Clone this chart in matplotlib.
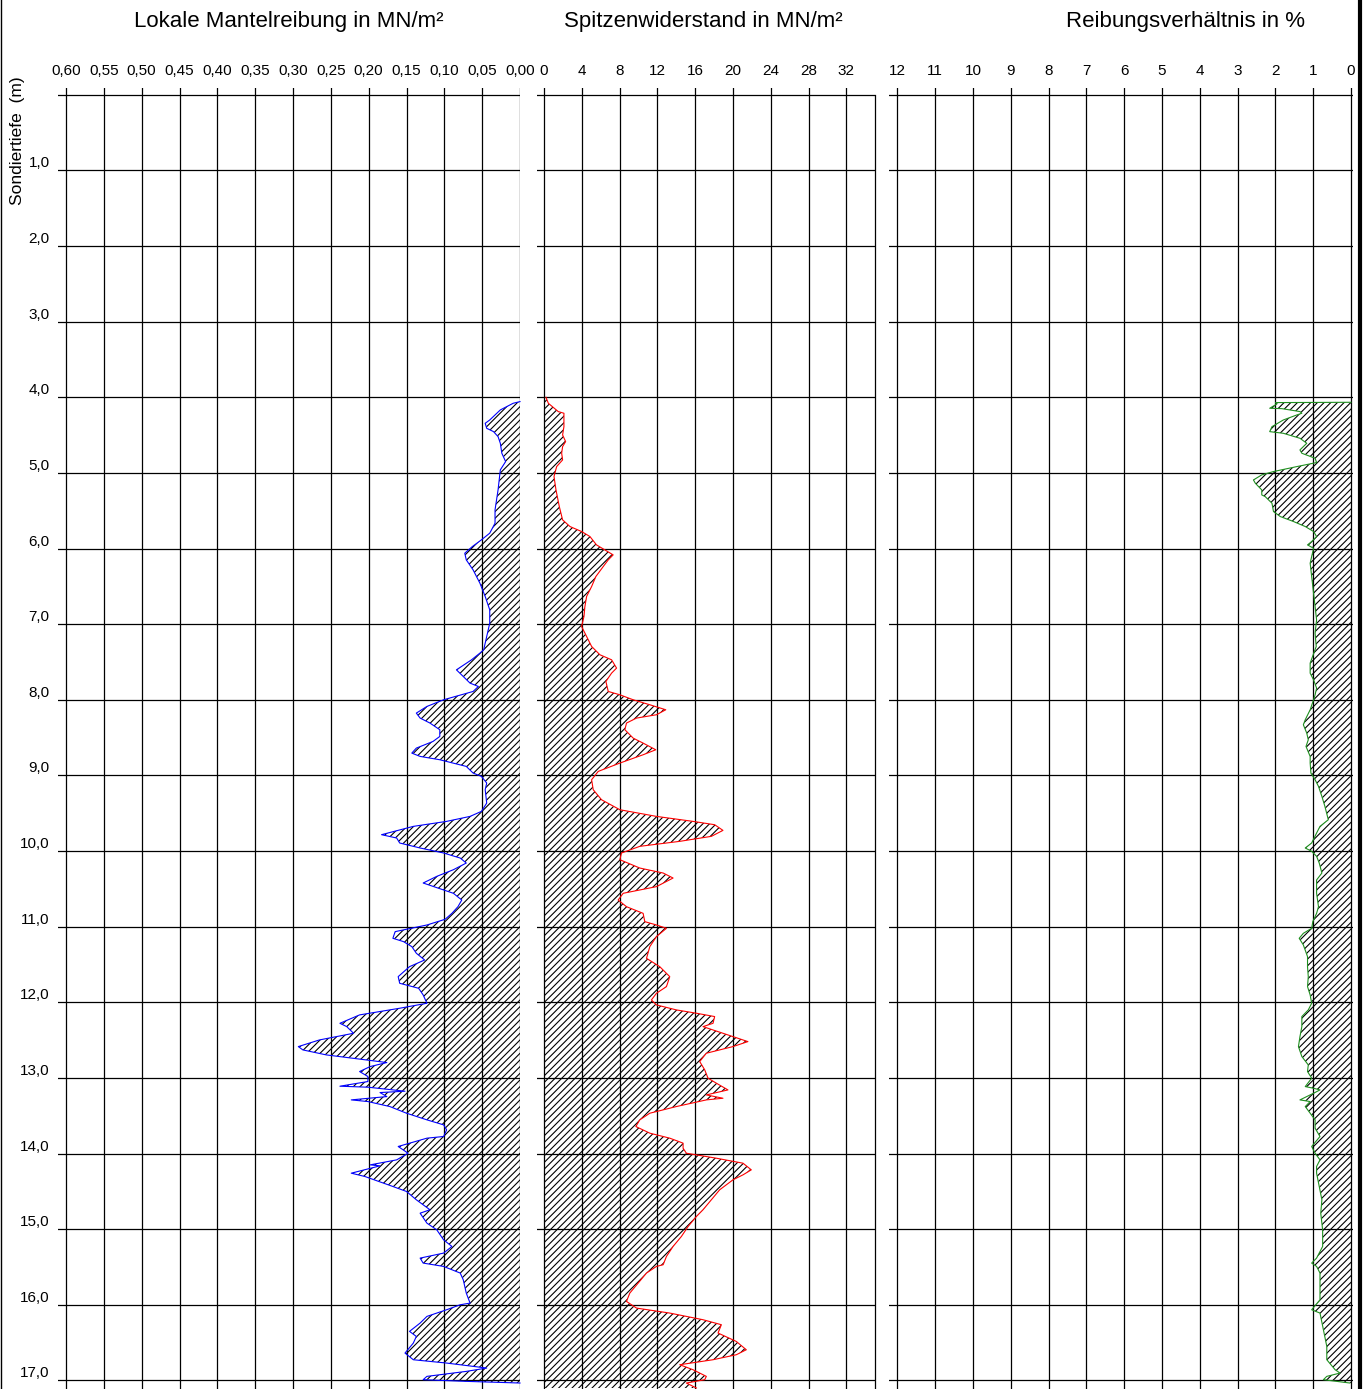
import matplotlib
matplotlib.use("Agg")
import matplotlib.pyplot as plt
from matplotlib.lines import Line2D
import numpy as np

plt.rcParams["font.family"] = ["Liberation Sans", "DejaVu Sans"]
plt.rcParams["hatch.linewidth"] = 0.8
plt.rcParams["hatch.color"] = "black"

W, H = 1368, 1389

# Lokale Mantelreibung (MN/m²) over depth (m)
fs_depth = [
    4.057, 4.079, 4.167, 4.300, 4.344, 4.410, 4.454, 4.520, 4.608, 4.740, 4.850, 4.960,
    5.225, 5.489, 5.665, 5.797, 5.885, 5.974, 6.062, 6.150, 6.282, 6.458, 6.634, 6.811,
    6.987, 7.163, 7.339, 7.383, 7.471, 7.604, 7.692, 7.780, 7.824, 7.890, 8.000, 8.088,
    8.176, 8.242, 8.308, 8.396, 8.485, 8.551, 8.639, 8.705, 8.749, 8.793, 8.881, 8.969,
    9.013, 9.101, 9.189, 9.366, 9.476, 9.542, 9.608, 9.674, 9.784, 9.828, 9.894, 9.960,
    10.026, 10.093, 10.159, 10.247, 10.335, 10.423, 10.515, 10.559, 10.648, 10.736,
    10.824, 10.903, 10.978, 11.066, 11.154, 11.198, 11.264, 11.352, 11.441, 11.529,
    11.661, 11.749, 11.815, 11.903, 12.013, 12.079, 12.167, 12.278, 12.322, 12.410,
    12.498, 12.586, 12.630, 12.696, 12.762, 12.797, 12.850, 12.916, 12.982, 13.048,
    13.110, 13.123, 13.176, 13.194, 13.247, 13.291, 13.313, 13.379, 13.467, 13.555,
    13.621, 13.687, 13.775, 13.797, 13.907, 13.996, 14.084, 14.150, 14.163, 14.260,
    14.304, 14.436, 14.502, 14.612, 14.744, 14.789, 14.921, 15.009, 15.141, 15.229,
    15.317, 15.383, 15.449, 15.493, 15.581, 15.670, 15.846, 15.978, 16.000, 16.066,
    16.154, 16.242, 16.352, 16.419, 16.507, 16.639, 16.727, 16.771, 16.837, 16.881,
    16.947, 16.991, 17.013, 17.035,
]
fs_value = [
    0.000, 0.009, 0.026, 0.040, 0.046, 0.044, 0.035, 0.029, 0.026, 0.024, 0.019, 0.026,
    0.029, 0.033, 0.033, 0.040, 0.051, 0.063, 0.073, 0.071, 0.062, 0.053, 0.046, 0.040,
    0.040, 0.044, 0.048, 0.053, 0.064, 0.084, 0.075, 0.066, 0.055, 0.062, 0.101, 0.123,
    0.137, 0.132, 0.119, 0.106, 0.106, 0.115, 0.137, 0.143, 0.132, 0.106, 0.071, 0.062,
    0.051, 0.044, 0.046, 0.044, 0.051, 0.066, 0.097, 0.141, 0.183, 0.163, 0.159, 0.132,
    0.101, 0.079, 0.071, 0.088, 0.110, 0.128, 0.101, 0.088, 0.077, 0.082,
    0.090, 0.099, 0.123, 0.165, 0.168, 0.154, 0.143, 0.137, 0.126, 0.146,
    0.161, 0.159, 0.134, 0.128, 0.123, 0.159, 0.212, 0.238, 0.229, 0.220,
    0.265, 0.293, 0.287, 0.256, 0.203, 0.176, 0.198, 0.212, 0.201, 0.201,
    0.238, 0.201, 0.152, 0.185, 0.176, 0.223, 0.201, 0.172, 0.150, 0.123,
    0.101, 0.097, 0.101, 0.123, 0.161, 0.148, 0.163, 0.198, 0.185, 0.223,
    0.205, 0.168, 0.150, 0.137, 0.119, 0.132, 0.123, 0.110, 0.101, 0.090,
    0.101, 0.132, 0.128, 0.101, 0.079, 0.075, 0.071, 0.066, 0.079, 0.097,
    0.123, 0.132, 0.146, 0.137, 0.141, 0.152, 0.141, 0.097, 0.044, 0.071,
    0.123, 0.128, 0.071, 0.000,
]

# Spitzenwiderstand (MN/m²) over depth (m)
qc_depth = [
    4.000, 4.079, 4.189, 4.211, 4.388, 4.498, 4.586, 4.652, 4.740, 4.828, 4.916, 5.048,
    5.225, 5.445, 5.621, 5.709, 5.775, 5.841, 5.952, 6.018, 6.084, 6.150, 6.238, 6.370,
    6.502, 6.634, 6.767, 6.899, 7.031, 7.163, 7.295, 7.405, 7.471, 7.581, 7.648, 7.758,
    7.890, 7.934, 8.000, 8.066, 8.132, 8.198, 8.242, 8.308, 8.396, 8.507, 8.573, 8.661,
    8.727, 8.837, 8.947, 9.057, 9.189, 9.322, 9.454, 9.542, 9.608, 9.652, 9.727, 9.806,
    9.872, 9.938, 10.026, 10.115, 10.225, 10.291, 10.357, 10.471, 10.559, 10.648,
    10.736, 10.824, 10.934, 10.978, 11.022, 11.132, 11.264, 11.419, 11.529, 11.661,
    11.793, 11.881, 11.969, 12.035, 12.101, 12.145, 12.189, 12.278, 12.322, 12.410,
    12.520, 12.586, 12.674, 12.784, 12.894, 13.004, 13.070, 13.159, 13.225, 13.269,
    13.291, 13.379, 13.467, 13.555, 13.643, 13.731, 13.797, 13.863, 13.930, 13.996,
    14.062, 14.128, 14.216, 14.282, 14.348, 14.480, 14.612, 14.744, 14.833, 14.965,
    15.097, 15.229, 15.361, 15.471, 15.493, 15.581, 15.714, 15.846, 15.956, 16.044,
    16.110, 16.198, 16.264, 16.374, 16.485, 16.595, 16.661, 16.727, 16.793, 16.859,
    16.947, 16.991, 17.035, 17.101,
]
qc_value = [
    0.21, 0.46, 1.51, 2.11, 2.11, 1.97, 2.29, 1.97, 1.87, 1.97, 1.34, 1.06,
    1.27, 1.62, 1.97, 2.75, 3.98, 4.86, 5.56, 6.44, 7.32, 6.80, 6.27, 5.49,
    5.04, 4.51, 4.33, 4.23, 3.98, 4.51, 5.04, 5.92, 7.15, 7.68, 7.15, 6.55,
    6.80, 8.03, 9.44, 11.20, 12.89, 11.90, 9.79, 8.73, 8.56, 9.44, 10.49, 11.83,
    10.49, 8.03, 5.74, 5.04, 5.21, 6.09, 8.03, 11.90, 15.77, 18.06, 18.94, 17.71,
    14.37, 10.14, 8.20, 8.03, 10.14, 12.61, 13.66, 11.90, 8.38, 7.85,
    8.73, 10.49, 10.67, 11.90, 12.96, 11.90, 11.20, 10.85, 12.25, 13.31,
    12.96, 11.90, 11.37, 11.90, 14.01, 16.13, 18.06, 17.89, 16.83, 18.94,
    21.58, 20.00, 17.18, 16.48, 17.01, 17.36, 18.24, 19.47, 17.18, 18.94,
    17.18, 14.01, 11.20, 10.14, 9.72, 11.20, 13.31, 14.72, 14.72, 15.07,
    18.24, 21.06, 21.94, 21.06, 20.00, 18.59, 17.71, 16.83, 16.13, 15.25,
    14.54, 13.66, 12.96, 12.61, 11.90, 10.85, 9.96, 9.08, 8.73, 9.79,
    13.31, 16.83, 18.77, 18.42, 20.35, 21.41, 20.35, 17.89, 14.37, 15.77,
    17.18, 17.01, 15.07, 16.13,
]

# Reibungsverhältnis (%) over depth (m)
rf_depth = [
    4.066, 4.070, 4.088, 4.145, 4.150, 4.189, 4.211, 4.233, 4.300, 4.388, 4.454, 4.476,
    4.542, 4.608, 4.696, 4.740, 4.806, 4.863, 4.916, 4.982, 5.026, 5.093, 5.137, 5.225,
    5.291, 5.313, 5.401, 5.511, 5.577, 5.643, 5.709, 5.775, 5.841, 5.907, 5.952, 5.996,
    6.106, 6.194, 6.370, 6.590, 6.767, 6.943, 7.119, 7.295, 7.515, 7.648, 7.736, 7.846,
    7.934, 8.000, 8.132, 8.264, 8.330, 8.441, 8.529, 8.617, 8.749, 8.837, 8.969, 9.057,
    9.145, 9.278, 9.410, 9.586, 9.674, 9.762, 9.894, 9.960, 10.004, 10.070, 10.159,
    10.291, 10.383, 10.559, 10.736, 10.824, 10.934, 11.022, 11.088, 11.154, 11.242,
    11.396, 11.529, 11.661, 11.793, 11.903, 12.013, 12.101, 12.189, 12.322, 12.454,
    12.586, 12.718, 12.828, 12.916, 13.004, 13.115, 13.137, 13.159, 13.203, 13.291,
    13.313, 13.379, 13.467, 13.555, 13.665, 13.775, 13.907, 13.996, 14.084, 14.172,
    14.260, 14.436, 14.612, 14.789, 15.009, 15.229, 15.383, 15.449, 15.493, 15.581,
    15.758, 15.934, 16.066, 16.110, 16.330, 16.551, 16.727, 16.859, 16.903, 16.947,
    16.991, 17.035,
]
rf_value = [
    0.00, 2.00, 1.96, 2.15, 1.83, 1.35, 1.30, 1.43, 1.79, 2.09, 2.15, 1.79,
    1.35, 1.17, 1.35, 1.30, 0.95, 0.91, 1.43, 2.05, 2.36, 2.58, 2.53, 2.36,
    2.36, 2.27, 2.09, 2.05, 1.87, 1.52, 1.21, 0.99, 0.91, 1.04, 1.15, 0.99,
    1.04, 1.08, 1.04, 0.99, 0.95, 0.91, 0.95, 0.92, 1.08, 1.08, 0.99, 0.91,
    0.95, 0.99, 1.08, 1.21, 1.26, 1.17, 1.13, 1.19, 1.08, 1.08, 1.06, 0.95,
    0.86, 0.77, 0.69, 0.60, 0.82, 0.91, 1.04, 1.21, 1.04, 0.91, 0.84,
    0.77, 0.91, 0.91, 0.86, 0.91, 1.01, 1.04, 1.26, 1.37, 1.26,
    1.15, 1.15, 1.13, 1.15, 1.08, 1.04, 1.13, 1.30, 1.30, 1.35,
    1.39, 1.30, 1.13, 1.15, 1.04, 1.21, 0.99, 0.82, 0.99, 1.35,
    1.08, 1.21, 1.08, 0.95, 0.95, 0.82, 1.04, 0.95, 0.82, 0.91,
    0.91, 0.84, 0.77, 0.80, 0.75, 0.75, 0.91, 1.04, 0.91, 0.82,
    0.82, 0.82, 1.04, 0.82, 0.73, 0.64, 0.64, 0.42, 0.29, 0.64,
    0.73, 0.03,
]

titles = ["Lokale Mantelreibung in MN/m²", "Spitzenwiderstand in MN/m²", "Reibungsverhältnis in %"]
fs_ticks = [0.60, 0.55, 0.50, 0.45, 0.40, 0.35, 0.30, 0.25, 0.20, 0.15, 0.10, 0.05, 0.00]
qc_ticks = [0, 4, 8, 12, 16, 20, 24, 28, 32]
rf_ticks = [12, 11, 10, 9, 8, 7, 6, 5, 4, 3, 2, 1, 0]
depth_ticks = list(range(0, 18))

DEPTH_TOP, DEPTH_BOT = -0.090, 17.114


def px_axes(fig, left, right, top=88, bottom=H):
    return fig.add_axes([left / W, 1 - bottom / H, (right - left) / W, (bottom - top) / H])


def style_panel(ax, xlim, ticks, fmt):
    ax.set_xlim(*xlim)
    ax.set_ylim(DEPTH_BOT, DEPTH_TOP)
    ax.set_xticks(ticks)
    ax.set_xticklabels([fmt(t) for t in ticks])
    ax.set_yticks(depth_ticks)
    ax.set_yticklabels([])
    ax.xaxis.tick_top()
    ax.tick_params(axis="x", length=0, pad=7.5, labelsize=11)
    ax.tick_params(axis="y", length=0)
    ax.grid(True, color="black", linewidth=0.9)
    ax.set_axisbelow(True)
    for sp in ax.spines.values():
        sp.set_visible(False)


def hatched(ax, depth, value, color):
    ax.fill_betweenx(depth, 0, value, facecolor="none", edgecolor="black",
                     hatch="/////", linewidth=0)
    ax.plot(value, depth, color=color, linewidth=0.8, clip_on=False)


fig = plt.figure(figsize=(W / 100, H / 100), dpi=100)

ax1 = px_axes(fig, 58, 520)
style_panel(ax1, (0.6106, 0.0), fs_ticks, lambda t: f"{t:.2f}".replace(".", ","))
ax1.set_yticklabels(["" if d == 0 else f"{d},0" for d in depth_ticks])
ax1.tick_params(axis="y", pad=6, labelsize=11)
for lab in ax1.get_yticklabels():
    lab.set_verticalalignment("bottom")
hatched(ax1, fs_depth, fs_value, "#0000ff")

ax2 = px_axes(fig, 537, 875)
style_panel(ax2, (-0.74, 35.03), qc_ticks, lambda t: f"{t}")
ax2.spines["right"].set_visible(True)
ax2.spines["right"].set_linewidth(0.9)
ax2.spines["right"].set_bounds(0, DEPTH_BOT)
hatched(ax2, qc_depth, qc_value, "#ff0000")

ax3 = px_axes(fig, 889, 1353)
style_panel(ax3, (12.22, -0.053), rf_ticks, lambda t: f"{t}")
hatched(ax3, rf_depth, rf_value, "#1f8f1f")

for title, xc in zip(titles, [289, 703, 1186]):
    fig.text(xc / W, 1 - 21 / H, title, ha="center", va="center", fontsize=16)

fig.text(18 / W, 1 - 141 / H, "Sondiertiefe  (m)", rotation=90, ha="center", va="center",
         fontsize=12.5)

fig.add_artist(Line2D([0.6 / W, 0.6 / W], [0, 1], color="black", linewidth=1.0))
fig.add_artist(Line2D([1360 / W, 1360 / W], [0, 1], color="black", linewidth=3.0))

fig.savefig("out.png", dpi=100)
